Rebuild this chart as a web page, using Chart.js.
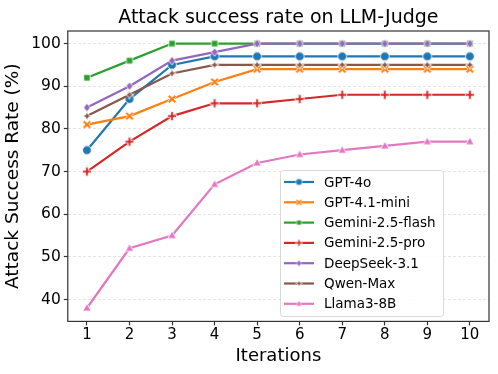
<!DOCTYPE html>
<html>
<head>
<meta charset="utf-8">
<script src="https://cdn.jsdelivr.net/npm/chart.js@4"></script>
<style>
  html, body { margin: 0; padding: 0; background: #fff; }
  #wrap { width: 498px; height: 374px; }
</style>
</head>
<body>
<div id="wrap"><canvas id="chart" width="498" height="374"></canvas></div>
<script>
// --- data ---
var iterations = [1, 2, 3, 4, 5, 6, 7, 8, 9, 10];
var yTicks = [40, 50, 60, 70, 80, 90, 100];

var modelNames = ['GPT-4o', 'GPT-4.1-mini', 'Gemini-2.5-flash', 'Gemini-2.5-pro', 'DeepSeek-3.1', 'Qwen-Max', 'Llama3-8B'];
var gpt4o      = [75, 87, 95, 97, 97, 97, 97, 97, 97, 97];
var gpt41mini  = [81, 83, 87, 91, 94, 94, 94, 94, 94, 94];
var geminiFlash = [92, 96, 100, 100, 100, 100, 100, 100, 100, 100];
var geminiPro  = [70, 77, 83, 86, 86, 87, 88, 88, 88, 88];
var deepseek   = [85, 90, 96, 98, 100, 100, 100, 100, 100, 100];
var qwenMax    = [83, 88, 93, 95, 95, 95, 95, 95, 95, 95];
var llama      = [38, 52, 55, 67, 72, 74, 75, 76, 77, 77];

var seriesValues = [gpt4o, gpt41mini, geminiFlash, geminiPro, deepseek, qwenMax, llama];
var colors = ['#1f77b4', '#ff7f0e', '#2ca02c', '#d62728', '#9467bd', '#8c564b', '#e377c2'];
var markers = ['circle', 'x', 'square', 'plus', 'diamond', 'star', 'triangle'];

var FONT = "'DejaVu Sans', sans-serif";

// build a small canvas marker (seaborn style, white edge)
function makeMarker(kind, color, scale) {
    scale = scale || 1;
    var s = Math.round(14 * scale);
    var c = document.createElement('canvas');
    c.width = s; c.height = s;
    var ctx = c.getContext('2d');
    ctx.translate(s / 2, s / 2);
    ctx.scale(scale, scale);
    ctx.fillStyle = color;
    ctx.strokeStyle = '#ffffff';
    ctx.lineWidth = 0.8;
    ctx.lineJoin = 'miter';
    ctx.beginPath();
    if (kind === 'circle') {
        ctx.arc(0, 0, 4.4, 0, Math.PI * 2);
    } else if (kind === 'square') {
        ctx.rect(-3.2, -3.2, 6.4, 6.4);
    } else if (kind === 'diamond') {
        ctx.moveTo(0, -4.2); ctx.lineTo(3.4, 0); ctx.lineTo(0, 4.2); ctx.lineTo(-3.4, 0); ctx.closePath();
    } else if (kind === 'star') {
        var a = 4.4, b = 1.3;
        ctx.moveTo(0, -a); ctx.lineTo(b, -b); ctx.lineTo(a, 0); ctx.lineTo(b, b);
        ctx.lineTo(0, a); ctx.lineTo(-b, b); ctx.lineTo(-a, 0); ctx.lineTo(-b, -b); ctx.closePath();
    } else if (kind === 'triangle') {
        ctx.moveTo(0, -4.6); ctx.lineTo(4.2, 3.0); ctx.lineTo(-4.2, 3.0); ctx.closePath();
    } else if (kind === 'plus') {
        var p = 4.4, w = 1.3;
        ctx.moveTo(-w, -p); ctx.lineTo(w, -p); ctx.lineTo(w, -w); ctx.lineTo(p, -w); ctx.lineTo(p, w);
        ctx.lineTo(w, w); ctx.lineTo(w, p); ctx.lineTo(-w, p); ctx.lineTo(-w, w); ctx.lineTo(-p, w);
        ctx.lineTo(-p, -w); ctx.lineTo(-w, -w); ctx.closePath();
    } else if (kind === 'x') {
        ctx.rotate(Math.PI / 4);
        var q = 4.8, v = 1.3;
        ctx.moveTo(-v, -q); ctx.lineTo(v, -q); ctx.lineTo(v, -v); ctx.lineTo(q, -v); ctx.lineTo(q, v);
        ctx.lineTo(v, v); ctx.lineTo(v, q); ctx.lineTo(-v, q); ctx.lineTo(-v, v); ctx.lineTo(-q, v);
        ctx.lineTo(-q, -v); ctx.lineTo(-v, -v); ctx.closePath();
    }
    ctx.fill();
    ctx.stroke();
    return c;
}

var datasets = seriesValues.map(function (vals, i) {
    return {
        label: modelNames[i],
        data: vals.map(function (v, j) { return { x: iterations[j], y: v }; }),
        borderColor: colors[i],
        backgroundColor: colors[i],
        borderWidth: 2.2,
        pointStyle: makeMarker(markers[i], colors[i]),
        pointRadius: 5,
        pointHoverRadius: 5,
        tension: 0,
        order: seriesValues.length - i
    };
});

// frame, title, and in-axes legend drawn by hand to match the matplotlib look
var decorPlugin = {
    id: 'decor',
    afterDraw: function (chart) {
        var ctx = chart.ctx, a = chart.chartArea;
        ctx.save();
        ctx.strokeStyle = '#333333';
        ctx.lineWidth = 1.2;
        ctx.strokeRect(a.left, a.top, a.right - a.left, a.bottom - a.top);

        // title centered over the axes
        ctx.fillStyle = '#000';
        ctx.font = '19px ' + FONT;
        ctx.textAlign = 'center';
        ctx.textBaseline = 'alphabetic';
        ctx.fillText('Attack success rate on LLM-Judge', (a.left + a.right) / 2, 23);

        // legend
        var lx = 280, ly = 170, lw = 163, lh = 146;
        ctx.fillStyle = 'rgba(255,255,255,0.85)';
        ctx.strokeStyle = '#d9d9d9';
        ctx.lineWidth = 1;
        ctx.beginPath();
        ctx.roundRect(lx + 0.5, ly + 0.5, lw, lh, 3);
        ctx.fill();
        ctx.stroke();
        ctx.font = '13.5px ' + FONT;
        ctx.textAlign = 'left';
        ctx.textBaseline = 'middle';
        modelNames.forEach(function (name, i) {
            var y = 182 + i * 20.3;
            ctx.strokeStyle = colors[i];
            ctx.lineWidth = 2.2;
            ctx.beginPath();
            ctx.moveTo(284, y); ctx.lineTo(314, y);
            ctx.stroke();
            var m = makeMarker(markers[i], colors[i], 0.75);
            ctx.drawImage(m, 299 - m.width / 2, y - m.height / 2);
            ctx.fillStyle = '#000';
            ctx.fillText(name, 324, y + 1);
        });
        ctx.restore();
    }
};

new Chart(document.getElementById('chart').getContext('2d'), {
    type: 'line',
    data: { datasets: datasets },
    options: {
        responsive: false,
        animation: false,
        layout: { padding: { top: 31, right: 9, left: 2, bottom: 4 } },
        plugins: { legend: { display: false }, tooltip: { enabled: false } },
        scales: {
            x: {
                type: 'linear',
                min: 0.55,
                max: 10.45,
                afterBuildTicks: function (axis) { axis.ticks = iterations.map(function (v) { return { value: v }; }); },
                grid: { drawOnChartArea: false, drawTicks: true, tickLength: 4, tickColor: '#333', tickWidth: 1.2 },
                border: { display: false },
                ticks: { color: '#000', font: { family: FONT, size: 15 }, padding: 1, maxRotation: 0, autoSkip: false },
                title: { display: true, text: 'Iterations', color: '#000', font: { family: FONT, size: 18 }, padding: { top: 0, bottom: 3 } }
            },
            y: {
                min: 34.86,
                max: 102.95,
                afterBuildTicks: function (axis) { axis.ticks = yTicks.map(function (v) { return { value: v }; }); },
                grid: { color: '#dddddd', lineWidth: 0.8, drawTicks: true, tickLength: 4, tickColor: '#333', tickWidth: 1.2 },
                border: { display: false, dash: [3, 2] },
                ticks: { color: '#000', font: { family: FONT, size: 15.5 }, padding: 3 },
                title: { display: true, text: 'Attack Success Rate (%)', color: '#000', font: { family: FONT, size: 18.5 }, padding: { top: 0, bottom: 4 } }
            }
        }
    },
    plugins: [decorPlugin]
});
</script>
</body>
</html>
